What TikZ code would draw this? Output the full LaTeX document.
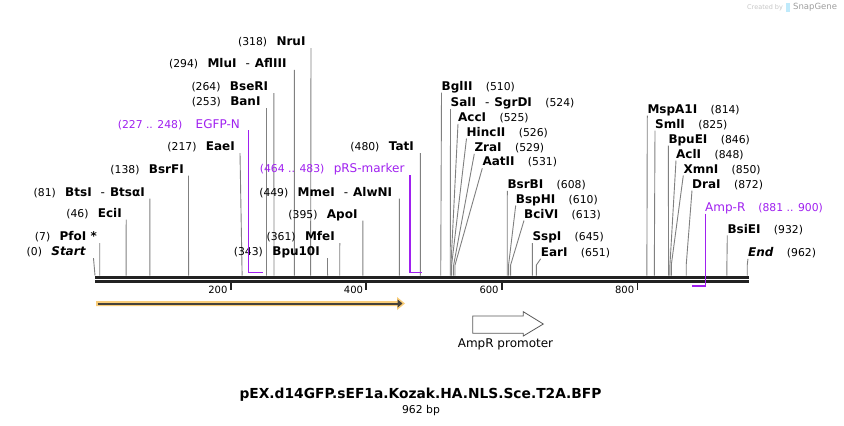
\documentclass[tikz,border=0pt]{standalone}
\usepackage{fontspec}
\setmainfont{DejaVu Sans}
\usetikzlibrary{arrows.meta}
\definecolor{feat}{RGB}{160,32,240}
\definecolor{cutline}{RGB}{128,128,128}
\definecolor{bb}{RGB}{34,34,34}
\definecolor{orhalo}{RGB}{250,205,120}
\definecolor{ordark}{RGB}{70,66,58}
\definecolor{promline}{RGB}{90,90,90}
\tikzset{
  lab/.style={inner sep=0pt, font=\fontsize{12}{14}\selectfont\bfseries, text=black},
  num/.style={inner sep=0pt, font=\fontsize{10.8}{13}\selectfont, text=black},
  flab/.style={inner sep=0pt, font=\fontsize{12}{14}\selectfont, text=feat},
  fnum/.style={inner sep=0pt, font=\fontsize{10.8}{13}\selectfont, text=feat},
  ticklab/.style={inner sep=0pt, font=\fontsize{10}{12}\selectfont, text=black},
  siteline/.style={draw=cutline, line width=0.9pt},
  featline/.style={draw=feat, line width=1.6pt},
  backbone/.style={draw=bb},
}
\newcommand\dsh{\hspace{9pt}{\mdseries -}\hspace{5pt}}
% id, num, name, y, textright, topx, bp
\newcommand\SiteL[7]{%
  \node[lab, anchor=base east] (#1n) at (#5, #4+4) {#3};
  \node[num, anchor=base east] (#1p) at ([xshift=-9pt]#1n.base west) {(#2)};
  \coordinate (#1t) at (#6, #4+6.5);
  \coordinate (#1b) at ({95+0.678*#7}, 275.5);
  \draw[siteline] (#1t) -- (#1b);
}
% id, num, name, y, topx, bp
\newcommand\SiteR[6]{%
  \node[lab, anchor=base west] (#1n) at (#5, #4+4) {#3};
  \node[num, anchor=base west] (#1p) at ([xshift=13pt]#1n.base east) {(#2)};
  \coordinate (#1t) at (#5, #4+6.5);
  \coordinate (#1k) at ({95+0.678*#6}, 265);
  \coordinate (#1b) at ({95+0.678*#6}, 275.5);
  \draw[siteline] (#1t) -- (#1k) -- (#1b);
}
\begin{document}
\begin{tikzpicture}[x=1pt, y=-1pt]
\fill[white] (0,0) rectangle (844,426);
\useasboundingbox (0,0) rectangle (844,426);

% watermark
\node[inner sep=0pt, anchor=west, font=\fontsize{6.5}{8}\selectfont, text=black!22] (wm1) at (747,7.5) {Created by};
\fill[cyan!25] (786,3) rectangle (790,12);
\node[inner sep=0pt, anchor=west, font=\fontsize{8.5}{10}\selectfont, text=black!38] (wm2) at (793,7.5) {SnapGene};

% left-side sites
\SiteL{start}{0}{\itshape Start}{251.7}{85.7}{93.5}{0}
\SiteL{pfoi}{7}{PfoI *}{236.7}{97}{99.7}{7}
\SiteL{ecii}{46}{EciI}{213}{122}{126.2}{46}
\SiteL{btsi}{81}{BtsI\dsh BtsαI}{192}{145}{149.9}{81}
\SiteL{bsrfi}{138}{BsrFI}{169}{184}{188.5}{138}
\SiteL{eaei}{217}{EaeI}{146.7}{235}{240}{217}
\SiteL{bani}{253}{BanI}{101.7}{260.7}{266.5}{253}
\SiteL{bseri}{264}{BseRI}{86.7}{268.3}{273.9}{264}
\SiteL{mlui}{294}{MluI\dsh AflIII}{63.3}{286.7}{294.3}{294}
\SiteL{nrui}{318}{NruI}{41.7}{305.7}{311}{318}
\SiteL{bpu}{343}{Bpu10I}{251.7}{320}{327.5}{343}
\SiteL{mfei}{361}{MfeI}{236.7}{335}{339.8}{361}
\SiteL{apoi}{395}{ApoI}{214}{357.7}{362.8}{395}
\SiteL{mmei}{449}{MmeI\dsh AlwNI}{192}{392.3}{399.4}{449}
\SiteL{tati}{480}{TatI}{146.7}{414}{420.4}{480}

% right-side sites
\SiteR{bglii}{510}{BglII}{86}{441.5}{510}
\SiteR{sali}{524}{SalI\dsh SgrDI}{102.7}{450.5}{524}
\SiteR{acci}{525}{AccI}{117.3}{458}{525}
\SiteR{hincii}{526}{HincII}{132}{466.5}{526}
\SiteR{zrai}{529}{ZraI}{147.3}{474.3}{529}
\SiteR{aatii}{531}{AatII}{161.7}{482.3}{531}
\SiteR{bsrbi}{608}{BsrBI}{184.3}{507.3}{608}
\SiteR{bsphi}{610}{BspHI}{199}{515.7}{610}
\SiteR{bcivi}{613}{BciVI}{214}{524}{613}
\SiteR{sspi}{645}{SspI}{236.7}{532.3}{645}
\SiteR{eari}{651}{EarI}{252.3}{540.7}{651}
\SiteR{mspa}{814}{MspA1I}{109}{647.3}{814}
\SiteR{smli}{825}{SmlI}{124}{655}{825}
\SiteR{bpuei}{846}{BpuEI}{139}{668.3}{846}
\SiteR{acli}{848}{AclI}{154}{676}{848}
\SiteR{xmni}{850}{XmnI}{169}{683.3}{850}
\SiteR{drai}{872}{DraI}{184}{692}{872}
\SiteR{bsiei}{932}{BsiEI}{229}{727.3}{932}
\SiteR{endd}{962}{\itshape End}{252.3}{748}{962}

% backbone
\coordinate (bbL1) at (95,277);   \coordinate (bbR1) at (749,277);
\coordinate (bbL2) at (95,281.3); \coordinate (bbR2) at (749,281.3);
\draw[backbone, line width=3pt] (bbL1) -- (bbR1);
\draw[backbone, line width=2.4pt] (bbL2) -- (bbR2);

% ticks
\foreach \v in {200,400,600,800}{
  \coordinate (tk\v) at ({95+0.678*\v},282);
  \coordinate (tkb\v) at ({95+0.678*\v},290);
  \draw[backbone, line width=1.8pt] (tk\v) -- (tkb\v);
  \node[ticklab, anchor=base east] (tl\v) at ({95+0.678*\v-3}, 293) {\v};
}

% features
\node[flab, anchor=base east] (egfpn) at (240,128.3) {EGFP-N};
\node[fnum, anchor=base east] (egfpp) at ([xshift=-13pt]egfpn.base west) {(227 .. 248)};
\coordinate (egfpt) at (248.5,130); \coordinate (egfpc) at (248.5,272.5); \coordinate (egfpe) at (263,272.5);
\draw[featline] (egfpt) -- (egfpc) -- (egfpe);

\node[flab, anchor=base east] (prsn) at (404.7,172.7) {pRS-marker};
\node[fnum, anchor=base east] (prsp) at ([xshift=-9pt]prsn.base west) {(464 .. 483)};
\coordinate (prst) at (409.7,175); \coordinate (prsc) at (409.7,272.5); \coordinate (prse) at (422,272.5);
\draw[featline] (prst) -- (prsc) -- (prse);

\node[flab, anchor=base west] (ampn) at (705,211.3) {Amp-R};
\node[fnum, anchor=base west] (ampp) at ([xshift=12.6pt]ampn.base east) {(881 .. 900)};
\coordinate (ampt) at (705.3,213.5); \coordinate (ampc) at (705.3,286); \coordinate (ampe) at (692,286);
\draw[featline] (ampt) -- (ampc) -- (ampe);

% orange arrow
\fill[orhalo] (96,301) -- (397,301) -- (397,297) -- (405,303.5) -- (397,310) -- (397,306) -- (96,306) -- cycle;
\coordinate (oaS) at (97.5,303.5); \coordinate (oaE) at (402.5,303.5);
\draw[ordark, line width=2pt, -{Triangle[length=5pt,width=8pt]}] (oaS) -- (oaE);

% AmpR promoter
\draw[promline, line width=0.8pt, fill=white] (472.7,316) -- (523.3,316) -- (523.3,311.7) -- (543.3,324) -- (523.3,336) -- (523.3,333.3) -- (472.7,333.3) -- cycle;
\node[inner sep=0pt, font=\fontsize{12}{14}\selectfont] (promlab) at (505.5,344) {AmpR promoter};

% title
\node[inner sep=0pt, font=\fontsize{13.8}{16}\selectfont\bfseries] (title) at (420.5,395) {pEX.d14GFP.sEF1a.Kozak.HA.NLS.Sce.T2A.BFP};
\node[inner sep=0pt, font=\fontsize{10.8}{13}\selectfont] (bplab) at (421,410.7) {962 bp};
\end{tikzpicture}
\end{document}
